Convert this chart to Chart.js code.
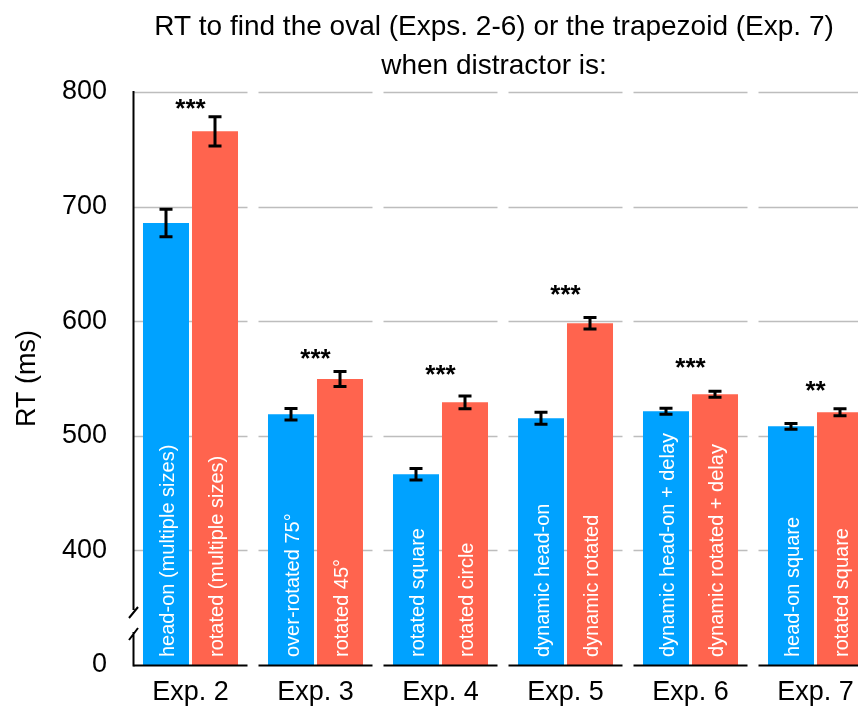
<!DOCTYPE html>
<html>
<head>
<meta charset="utf-8">
<title>RT by experiment</title>
<script src="https://cdn.jsdelivr.net/npm/chart.js@4.4.1/dist/chart.umd.min.js"></script>
<style>
    html, body { margin: 0; padding: 0; background: #ffffff; overflow: hidden; }
    #wrap { width: 900px; height: 706px; }
</style>
</head>
<body>
<div id="wrap"><canvas id="rtChart" width="900" height="706"></canvas></div>
<script>
//Data
const experiments = ["Exp. 2", "Exp. 3", "Exp. 4", "Exp. 5", "Exp. 6", "Exp. 7"];
const headOnRT = [685.7, 518.8, 466.4, 515.3, 521.4, 508.3];
const rotatedRT = [765.7, 549.5, 529.2, 598.2, 536.2, 520.5];
const headOnErr = [12, 5, 5, 5.3, 2.6, 2.5];
const rotatedErr = [12.8, 6.5, 5.5, 5, 2.6, 3];
const headOnNames = ["head-on (multiple sizes)", "over-rotated 75°", "rotated square", "dynamic head-on", "dynamic head-on + delay", "head-on square"];
const rotatedNames = ["rotated (multiple sizes)", "rotated 45°", "rotated circle", "dynamic rotated", "dynamic rotated + delay", "rotated square"];
const stars = ["***", "***", "***", "***", "***", "**"];
const starLevel = [790, 572, 558.6, 628.3, 564.2, 544.2];
const yTicks = [300, 400, 500, 600, 700, 800];
const titleLines = ["RT to find the oval (Exps. 2-6) or the trapezoid (Exp. 7)", "when distractor is:"];

const FONT = "'Liberation Sans', Arial, Helvetica, sans-serif";
const BLUE = "#00a2ff";
const RED = "#ff644e";

//Title, two centred lines
const titlePlugin = {
    id: "titleLines",
    afterDraw(chart) {
        const ctx = chart.ctx;
        ctx.save();
        ctx.fillStyle = "#000";
        ctx.font = "28px " + FONT;
        ctx.textAlign = "center";
        ctx.textBaseline = "alphabetic";
        ctx.fillText(titleLines[0], 494, 35);
        ctx.fillText(titleLines[1], 494, 74);
        ctx.restore();
    }
};

//Grid segments per experiment, drawn under the bars
const gridPlugin = {
    id: "segGrid",
    beforeDatasetsDraw(chart) {
        const ctx = chart.ctx;
        const x = chart.scales.x;
        const y = chart.scales.y;
        const half = x.width / experiments.length * 0.456;
        ctx.save();
        ctx.strokeStyle = "#bdbdbd";
        ctx.lineWidth = 1.3;
        yTicks.slice(1).forEach(v => {
            const py = Math.round(y.getPixelForValue(v)) + 0.5;
            experiments.forEach((_, i) => {
                const cx = x.getPixelForValue(i);
                ctx.beginPath();
                ctx.moveTo(cx - half, py);
                ctx.lineTo(cx + half, py);
                ctx.stroke();
            });
        });
        ctx.restore();
    }
};

//Axes, error bars, stars and labels inside bars
const overlayPlugin = {
    id: "overlay",
    afterDatasetsDraw(chart) {
        const ctx = chart.ctx;
        const x = chart.scales.x;
        const y = chart.scales.y;
        const area = chart.chartArea;
        const half = x.width / experiments.length * 0.456;
        ctx.save();

        //Labels inside the bars
        ctx.fillStyle = "#ffffff";
        ctx.font = "20px " + FONT;
        ctx.textAlign = "left";
        ctx.textBaseline = "alphabetic";
        [headOnNames, rotatedNames].forEach((names, d) => {
            const meta = chart.getDatasetMeta(d);
            names.forEach((name, i) => {
                const bar = meta.data[i];
                ctx.save();
                ctx.translate(bar.x + 8, area.bottom - 8);
                ctx.rotate(-Math.PI / 2);
                ctx.fillText(name, 0, 0);
                ctx.restore();
            });
        });

        //Error bars
        ctx.strokeStyle = "#000";
        ctx.lineWidth = 3;
        [[headOnRT, headOnErr], [rotatedRT, rotatedErr]].forEach((pair, d) => {
            const meta = chart.getDatasetMeta(d);
            pair[0].forEach((v, i) => {
                const bx = meta.data[i].x;
                const top = y.getPixelForValue(v + pair[1][i]);
                const bot = y.getPixelForValue(v - pair[1][i]);
                ctx.beginPath();
                ctx.moveTo(bx, top);
                ctx.lineTo(bx, bot);
                ctx.moveTo(bx - 6.5, top);
                ctx.lineTo(bx + 6.5, top);
                ctx.moveTo(bx - 6.5, bot);
                ctx.lineTo(bx + 6.5, bot);
                ctx.stroke();
            });
        });

        //Significance stars
        ctx.fillStyle = "#000";
        ctx.font = "bold 26px " + FONT;
        ctx.textAlign = "center";
        ctx.textBaseline = "alphabetic";
        stars.forEach((s, i) => {
            ctx.fillText(s, x.getPixelForValue(i), y.getPixelForValue(starLevel[i]) + 14);
        });

        //X axis, one segment per experiment
        ctx.strokeStyle = "#000";
        ctx.lineWidth = 2;
        const baseY = area.bottom + 0.5;
        experiments.forEach((_, i) => {
            const cx = x.getPixelForValue(i);
            ctx.beginPath();
            ctx.moveTo(cx - half, baseY);
            ctx.lineTo(cx + half, baseY);
            ctx.stroke();
        });

        //Y axis with a break above zero
        const ax = x.getPixelForValue(0) - half;
        ctx.beginPath();
        ctx.moveTo(ax, y.getPixelForValue(800) - 1);
        ctx.lineTo(ax, area.bottom - 55);
        ctx.moveTo(ax, area.bottom - 33);
        ctx.lineTo(ax, area.bottom + 1.5);
        //break marks
        ctx.moveTo(ax - 4.5, area.bottom - 47);
        ctx.lineTo(ax + 4.5, area.bottom - 58);
        ctx.moveTo(ax - 4.5, area.bottom - 25);
        ctx.lineTo(ax + 4.5, area.bottom - 37);
        ctx.stroke();

        ctx.restore();
    }
};

const ctx = document.getElementById("rtChart").getContext("2d");
new Chart(ctx, {
    type: "bar",
    data: {
        labels: experiments,
        datasets: [
            {
                label: "head-on",
                data: headOnRT,
                backgroundColor: BLUE,
                base: 300
            },
            {
                label: "rotated",
                data: rotatedRT,
                backgroundColor: RED,
                base: 300
            }
        ]
    },
    options: {
        responsive: false,
        animation: false,
        devicePixelRatio: 1,
        categoryPercentage: 0.784,
        barPercentage: 0.939,
        layout: {
            padding: { top: 92, right: 22, bottom: 0, left: 0 }
        },
        plugins: {
            legend: { display: false },
            tooltip: { enabled: false }
        },
        scales: {
            x: {
                grid: { display: false, drawTicks: false },
                border: { display: false },
                ticks: {
                    color: "#000",
                    font: { family: FONT, size: 27 },
                    padding: 11
                },
                afterFit(scale) { scale.height = 41; }
            },
            y: {
                min: 300,
                max: 800,
                afterBuildTicks(scale) {
                    scale.ticks = yTicks.map(v => ({ value: v }));
                },
                grid: { display: false, drawTicks: false },
                border: { display: false },
                ticks: {
                    color: "#000",
                    font: { family: FONT, size: 27 },
                    padding: 21,
                    callback: v => (v === 300 ? "0" : v)
                },
                title: {
                    display: true,
                    text: "RT (ms)",
                    color: "#000",
                    font: { family: FONT, size: 27 },
                    padding: { top: 11, bottom: 0 }
                },
                afterFit(scale) { scale.width = 128; }
            }
        }
    },
    plugins: [titlePlugin, gridPlugin, overlayPlugin]
});
</script>
</body>
</html>
